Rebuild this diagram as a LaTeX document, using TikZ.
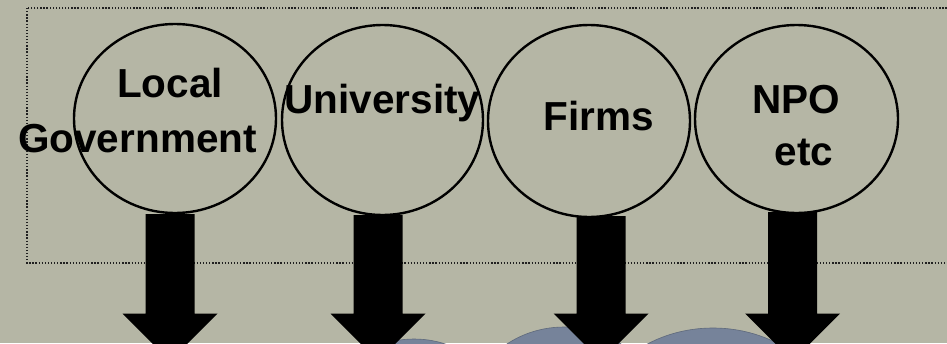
\documentclass[tikz,border=0pt]{standalone}
\usepackage{fontspec}
\setmainfont{Liberation Sans}
\usetikzlibrary{shapes.geometric}
\definecolor{bg}{HTML}{B5B6A5}
\definecolor{blob}{HTML}{76839A}
\definecolor{dotc}{HTML}{202020}
\tikzset{
  ring/.style={ellipse, draw=black, line width=2.4pt, inner sep=0pt},
  lbl/.style={font=\fontsize{40.5}{44}\selectfont\bfseries, text=black, anchor=base, inner sep=0pt},
  blobshape/.style={ellipse, fill=blob, draw=blob!80!black, line width=0.6pt, inner sep=0pt},
  frame/.style={draw=dotc, line width=1.4pt, dash pattern=on 1.3pt off 1.8pt}
}
\newcommand\fatarrow[3]{% name, x centre, top y
  \fill[black] (#2-24.5,#3) -- (#2+24.5,#3) -- (#2+24.5,313.5) -- (#2+47.5,313.5)
     -- (#2,361) -- (#2-47.5,313.5) -- (#2-24.5,313.5) -- cycle;
  \coordinate (#1) at (#2,361);}
\begin{document}
\begin{tikzpicture}[x=1pt,y=-1pt]
\useasboundingbox (0,0) rectangle (947,343);
\fill[bg] (0,0) rectangle (947,343);
% blobs at bottom
\node[blobshape, minimum width=190, minimum height=180] (b1) at (414,429) {};
\node[blobshape, minimum width=200, minimum height=190] (b2) at (564,422) {};
\node[blobshape, minimum width=236, minimum height=190] (b3) at (713,423) {};
% dotted frame
\draw[frame] (27,8) rectangle (965,263);
% circles
\node[ring, minimum width=202, minimum height=189] (c1) at (175,118.5) {};
\node[ring, minimum width=201, minimum height=190] (c2) at (382.5,120) {};
\node[ring, minimum width=202, minimum height=192] (c3) at (589,121) {};
\node[ring, minimum width=203, minimum height=188] (c4) at (796.5,119) {};
% labels
\node[lbl] (t1a) at (170,97) {Local};
\node[lbl] (t1b) at (137.5,152) {Government};
\node[lbl] (t2) at (382.5,113) {University};
\node[lbl] (t3) at (598.5,130) {Firms};
\node[lbl] (t4a) at (796.5,113) {NPO};
\node[lbl] (t4b) at (804,165) {etc};
% arrows
\fatarrow{a1}{170}{214}
\fatarrow{a2}{378}{215}
\fatarrow{a3}{601}{216}
\fatarrow{a4}{792.5}{212}
\end{tikzpicture}
\end{document}
